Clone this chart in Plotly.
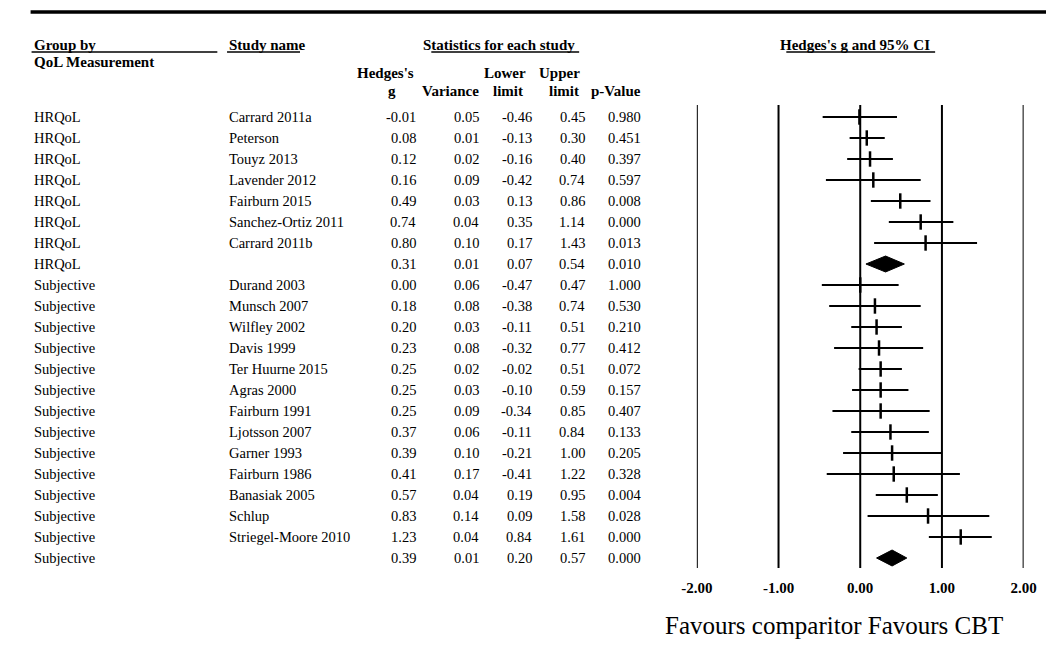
import plotly.graph_objects as go

# ---------------- data ----------------
groups = ["HRQoL"] * 8 + ["Subjective"] * 14
studies = ["Carrard 2011a", "Peterson", "Touyz 2013", "Lavender 2012", "Fairburn 2015",
           "Sanchez-Ortiz 2011", "Carrard 2011b", "",
           "Durand 2003", "Munsch 2007", "Wilfley 2002", "Davis 1999", "Ter Huurne 2015",
           "Agras 2000", "Fairburn 1991", "Ljotsson 2007", "Garner 1993", "Fairburn 1986",
           "Banasiak 2005", "Schlup", "Striegel-Moore 2010", ""]
hedges_g = [-0.01, 0.08, 0.12, 0.16, 0.49, 0.74, 0.80, 0.31,
            0.00, 0.18, 0.20, 0.23, 0.25, 0.25, 0.25, 0.37, 0.39, 0.41, 0.57, 0.83, 1.23, 0.39]
variance = [0.05, 0.01, 0.02, 0.09, 0.03, 0.04, 0.10, 0.01,
            0.06, 0.08, 0.03, 0.08, 0.02, 0.03, 0.09, 0.06, 0.10, 0.17, 0.04, 0.14, 0.04, 0.01]
lower = [-0.46, -0.13, -0.16, -0.42, 0.13, 0.35, 0.17, 0.07,
         -0.47, -0.38, -0.11, -0.32, -0.02, -0.10, -0.34, -0.11, -0.21, -0.41, 0.19, 0.09, 0.84, 0.20]
upper = [0.45, 0.30, 0.40, 0.74, 0.86, 1.14, 1.43, 0.54,
         0.47, 0.74, 0.51, 0.77, 0.51, 0.59, 0.85, 0.84, 1.00, 1.22, 0.95, 1.58, 1.61, 0.57]
p_value = [0.980, 0.451, 0.397, 0.597, 0.008, 0.000, 0.013, 0.010,
           1.000, 0.530, 0.210, 0.412, 0.072, 0.157, 0.407, 0.133, 0.205, 0.328, 0.004, 0.028, 0.000, 0.000]
is_summary = [s == "" for s in studies]
tick_vals = [-2, -1, 0, 1, 2]
tick_text = ["-2.00", "-1.00", "0.00", "1.00", "2.00"]

# ---------------- geometry helpers ----------------
W, H = 1059, 652
ROW0, ROWH = 117, 21          # pixel y of first row and row height


def ry(px):                   # pixel y -> row coordinate
    return (px - ROW0) / ROWH


def rx(px):                   # pixel x -> paper x
    return px / W


FONT = "Liberation Serif, Times New Roman, serif"
fs = 14.5
n = len(studies)
rows = list(range(n))

fig = go.Figure()

# vertical reference lines of the forest plot
vx, vy = [], []
for t in tick_vals:
    vx += [t, t, None]
    vy += [ry(105), ry(568), None]
fig.add_trace(go.Scatter(x=vx, y=vy, mode="lines", line=dict(color="black", width=2),
                         hoverinfo="skip", showlegend=False))

# confidence intervals for the individual studies
cx, cy, mx, my = [], [], [], []
for i in rows:
    if not is_summary[i]:
        cx += [lower[i], upper[i], None]
        cy += [i, i, None]
        mx.append(hedges_g[i])
        my.append(i)
fig.add_trace(go.Scatter(x=cx, y=cy, mode="lines", line=dict(color="black", width=2),
                         hoverinfo="skip", showlegend=False))
fig.add_trace(go.Scatter(x=mx, y=my, mode="markers",
                         marker=dict(symbol="line-ns", size=11, line=dict(color="black", width=2.5)),
                         hoverinfo="skip", showlegend=False))

# summary diamonds
hh = 0.38
for i in rows:
    if is_summary[i]:
        fig.add_trace(go.Scatter(x=[lower[i], hedges_g[i], upper[i], hedges_g[i], lower[i]],
                                 y=[i, i - hh, i, i + hh, i], mode="lines", fill="toself",
                                 fillcolor="black", line=dict(color="black", width=1),
                                 hoverinfo="skip", showlegend=False))

ann = []


def add_text(text, px, row, anchor="left", size=fs, bold=False):
    ann.append(dict(text=("<b>%s</b>" % text) if bold else text, x=rx(px), xref="paper",
                    y=row, yref="y", xanchor=anchor, yanchor="middle", showarrow=False,
                    font=dict(family=FONT, size=size, color="black")))


# table body
for i in rows:
    add_text(groups[i], 16, i)
    if studies[i]:
        add_text(studies[i], 217, i)
    add_text("%.2f" % hedges_g[i], 413, i, "right")
    add_text("%.2f" % variance[i], 478, i, "right")
    add_text("%.2f" % lower[i], 533, i, "right")
    add_text("%.2f" % upper[i], 587, i, "right")
    add_text("%.3f" % p_value[i], 645, i, "right")

# headers
hb = 15
add_text("Group by", 16, ry(45), bold=True, size=hb)
add_text("QoL Measurement", 16, ry(62), bold=True, size=hb)
add_text("Study name", 217, ry(45), bold=True, size=hb)
add_text("Statistics for each study", 416, ry(45), bold=True, size=hb)
add_text("Hedges's g and 95% CI", 783, ry(45), bold=True, size=hb)
add_text("Hedges's", 411, ry(73), "right", bold=True, size=hb)
add_text("g", 387, ry(91), "center", bold=True, size=hb)
add_text("Variance", 478, ry(91), "right", bold=True, size=hb)
add_text("Lower", 526, ry(73), "right", bold=True, size=hb)
add_text("limit", 523, ry(91), "right", bold=True, size=hb)
add_text("Upper", 582, ry(73), "right", bold=True, size=hb)
add_text("limit", 581, ry(91), "right", bold=True, size=hb)
add_text("p-Value", 645, ry(91), "right", bold=True, size=hb)

# footer caption
add_text("Favours comparitor Favours CBT", 841, ry(625), "center", size=25)

shapes = [
    dict(type="line", xref="paper", yref="y", x0=rx(15), x1=1, y0=ry(12), y1=ry(12),
         line=dict(color="black", width=3.5)),
]
for x0, x1 in [(16, 207), (217, 292), (427, 579), (792, 945)]:
    shapes.append(dict(type="line", xref="paper", yref="y", x0=rx(x0), x1=rx(x1),
                       y0=ry(52), y1=ry(52), line=dict(color="black", width=1.3)))

fig.update_layout(
    width=W, height=H, autosize=False,
    margin=dict(l=0, r=0, t=0, b=0),
    paper_bgcolor="white", plot_bgcolor="white",
    annotations=ann, shapes=shapes,
    xaxis=dict(domain=[rx(700), rx(1036)], range=[-2, 2], anchor="free",
               position=1 - 577 / H, tickvals=tick_vals, ticktext=tick_text,
               tickfont=dict(family=FONT, size=15, color="black", weight="bold"),
               showgrid=False, zeroline=False, showline=False, ticks=""),
    yaxis=dict(domain=[0, 1], range=[ry(H), ry(0)], visible=False,
               showgrid=False, zeroline=False),
)

fig.write_html("out.html", config={"displayModeBar": False},
               post_script="document.body.style.margin='0';")
